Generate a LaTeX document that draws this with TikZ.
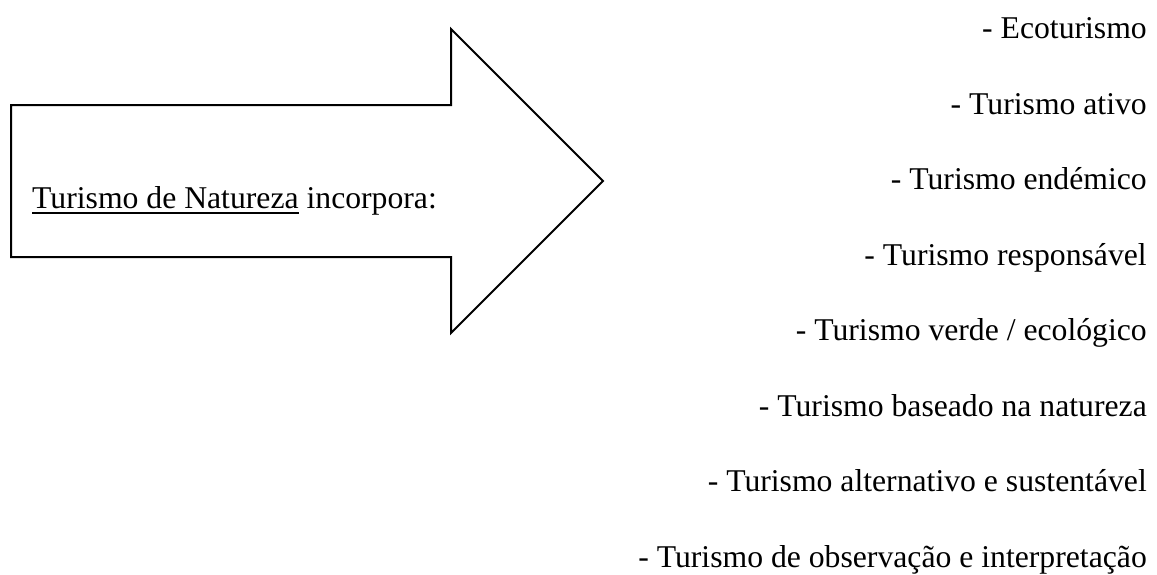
\documentclass[tikz,border=0pt]{standalone}
\usepackage{fontspec}
\setmainfont{Liberation Serif}
\newcommand\myul[1]{\setbox0\hbox{#1}\rlap{\rule[-6pt]{\wd0}{1.8pt}}\box0\relax}
\begin{document}
\begin{tikzpicture}[x=1pt,y=-1pt,
  txt/.style={inner sep=0pt,font=\fontsize{31.7}{38}\selectfont},
  item/.style={txt,anchor=base east},
  arrowshape/.style={draw=black,line width=2pt,line join=miter,fill=white}]
\useasboundingbox (0,0) rectangle (1157,574);
\draw[arrowshape] (11,105) -- (451,105) -- (451,29) -- (603,181) -- (451,333) -- (451,257) -- (11,257) -- cycle;
\node[txt,anchor=base west] (lead) at (32,208) {\myul{Turismo de Natureza} incorpora:};
\foreach \t [count=\i from 0] in {Ecoturismo,Turismo ativo,Turismo endémico,Turismo responsável,Turismo verde / ecológico,Turismo baseado na natureza,Turismo alternativo e sustentável,Turismo de observação e interpretação}{
  \node[item] (it\i) at (1147,{38.5+75.5*\i}) {- \t};
}
\end{tikzpicture}
\end{document}
